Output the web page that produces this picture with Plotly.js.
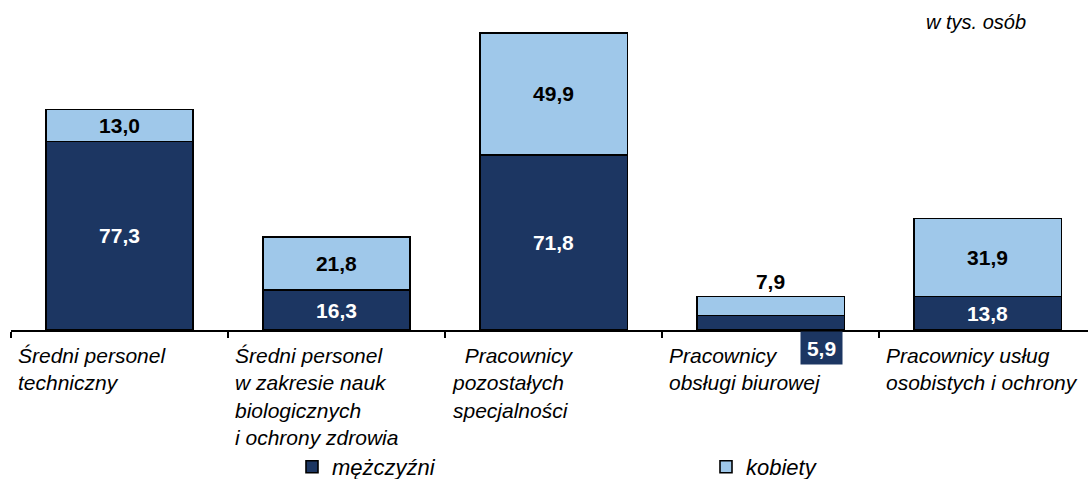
<!DOCTYPE html>
<html>
<head>
<meta charset="utf-8">
<script src="https://cdn.plot.ly/plotly-3.0.1.min.js"></script>
<style>html,body{margin:0;padding:0;background:#fff;}#chart{width:1088px;height:479px;}</style>
</head>
<body>
<div id="chart"></div>
<script>
const categories = [
  'Średni personel<br>techniczny',
  'Średni personel<br>w zakresie nauk<br>biologicznych<br>i ochrony zdrowia',
  '\u00A0\u00A0Pracownicy<br>pozostałych<br>specjalności',
  'Pracownicy<br>obsługi biurowej',
  'Pracownicy usług<br>osobistych i ochrony'
];
const men = [77.3, 16.3, 71.8, 5.9, 13.8];
const women = [13.0, 21.8, 49.9, 7.9, 31.9];
const seriesNames = ['mężczyźni', 'kobiety'];
const unitLabel = 'w tys. osób';

const DARK = '#1c3662';
const LIGHT = '#9fc8ea';
const FONT = '"Liberation Sans", Arial, sans-serif';
const fmt = v => v.toFixed(1).replace('.', ',');

const xIdx = categories.map((c, i) => i);
// the small men value in category 4 is shown in a box below the axis
const menPos = men.map((v, i) => i === 3 ? 'none' : 'inside');
const womenPos = women.map((v, i) => i === 3 ? 'outside' : 'inside');

const traces = [
  {
    type: 'bar', name: seriesNames[0], x: xIdx, y: men,
    marker: {color: DARK, line: {color: '#000', width: 1.6}},
    text: men.map(fmt), textposition: menPos, texttemplate: '%{text}',
    insidetextanchor: 'middle', constraintext: 'none',
    textfont: {family: FONT, size: 21, color: '#fff', weight: 'bold'},
    hoverinfo: 'none'
  },
  {
    type: 'bar', name: seriesNames[1], x: xIdx, y: women,
    marker: {color: LIGHT, line: {color: '#000', width: 1.6}},
    text: women.map(fmt), textposition: womenPos, texttemplate: '%{text}',
    insidetextanchor: 'middle', constraintext: 'none', cliponaxis: false,
    textfont: {family: FONT, size: 21, color: '#000', weight: 'bold'},
    outsidetextfont: {family: FONT, size: 21, color: '#000', weight: 'bold'},
    hoverinfo: 'none'
  }
];

const annotations = categories.map((c, i) => ({
  xref: 'x', yref: 'paper', x: i - 0.5, y: 0,
  xanchor: 'left', yanchor: 'top', xshift: 5, yshift: -12,
  text: c, align: 'left', showarrow: false,
  font: {family: FONT, size: 21, color: '#000', style: 'italic'}
}));
annotations.push({
  xref: 'x', yref: 'y', x: 3, y: 0, xanchor: 'center', yanchor: 'top',
  xshift: 51, yshift: -1, width: 39, height: 30,
  text: '<b>' + fmt(men[3]) + '</b>', showarrow: false, bgcolor: DARK,
  font: {family: FONT, size: 21, color: '#fff'}
});
annotations.push({
  xref: 'paper', yref: 'paper', x: (924 - 11) / 1077, y: (330 - 22) / 320,
  xanchor: 'left', yanchor: 'middle', text: unitLabel, showarrow: false,
  font: {family: FONT, size: 20, color: '#000', style: 'italic'}
});

const layout = {
  width: 1088, height: 479,
  margin: {l: 11, r: 0, t: 10, b: 149, pad: 0, autoexpand: false},
  paper_bgcolor: '#fff', plot_bgcolor: '#fff',
  barmode: 'stack', bargap: 0.32,
  separators: ', ',
  font: {family: FONT, color: '#000'},
  showlegend: true,
  legend: {
    orientation: 'h', x: (292 - 11) / 1077, xanchor: 'left',
    y: (330 - 446) / 320, yanchor: 'top', traceorder: 'normal',
    entrywidth: 369, entrywidthmode: 'pixels',
    font: {family: FONT, size: 22, color: '#000', style: 'italic'},
    bgcolor: 'rgba(0,0,0,0)'
  },
  xaxis: {
    type: 'linear', range: [-0.5, 4.463], showgrid: false, zeroline: false,
    showline: true, linecolor: '#000', linewidth: 1.5,
    tickmode: 'array', tickvals: [-0.5, 0.5, 1.5, 2.5, 3.5, 4.5],
    ticks: 'outside', ticklen: 6, tickwidth: 1.5, tickcolor: '#000',
    showticklabels: false, fixedrange: true
  },
  yaxis: {
    range: [0, 131.1], visible: false, showgrid: false, zeroline: false, fixedrange: true
  },
  annotations: annotations
};

Plotly.newPlot('chart', traces, layout, {displayModeBar: false, staticPlot: true});
</script>
</body>
</html>
